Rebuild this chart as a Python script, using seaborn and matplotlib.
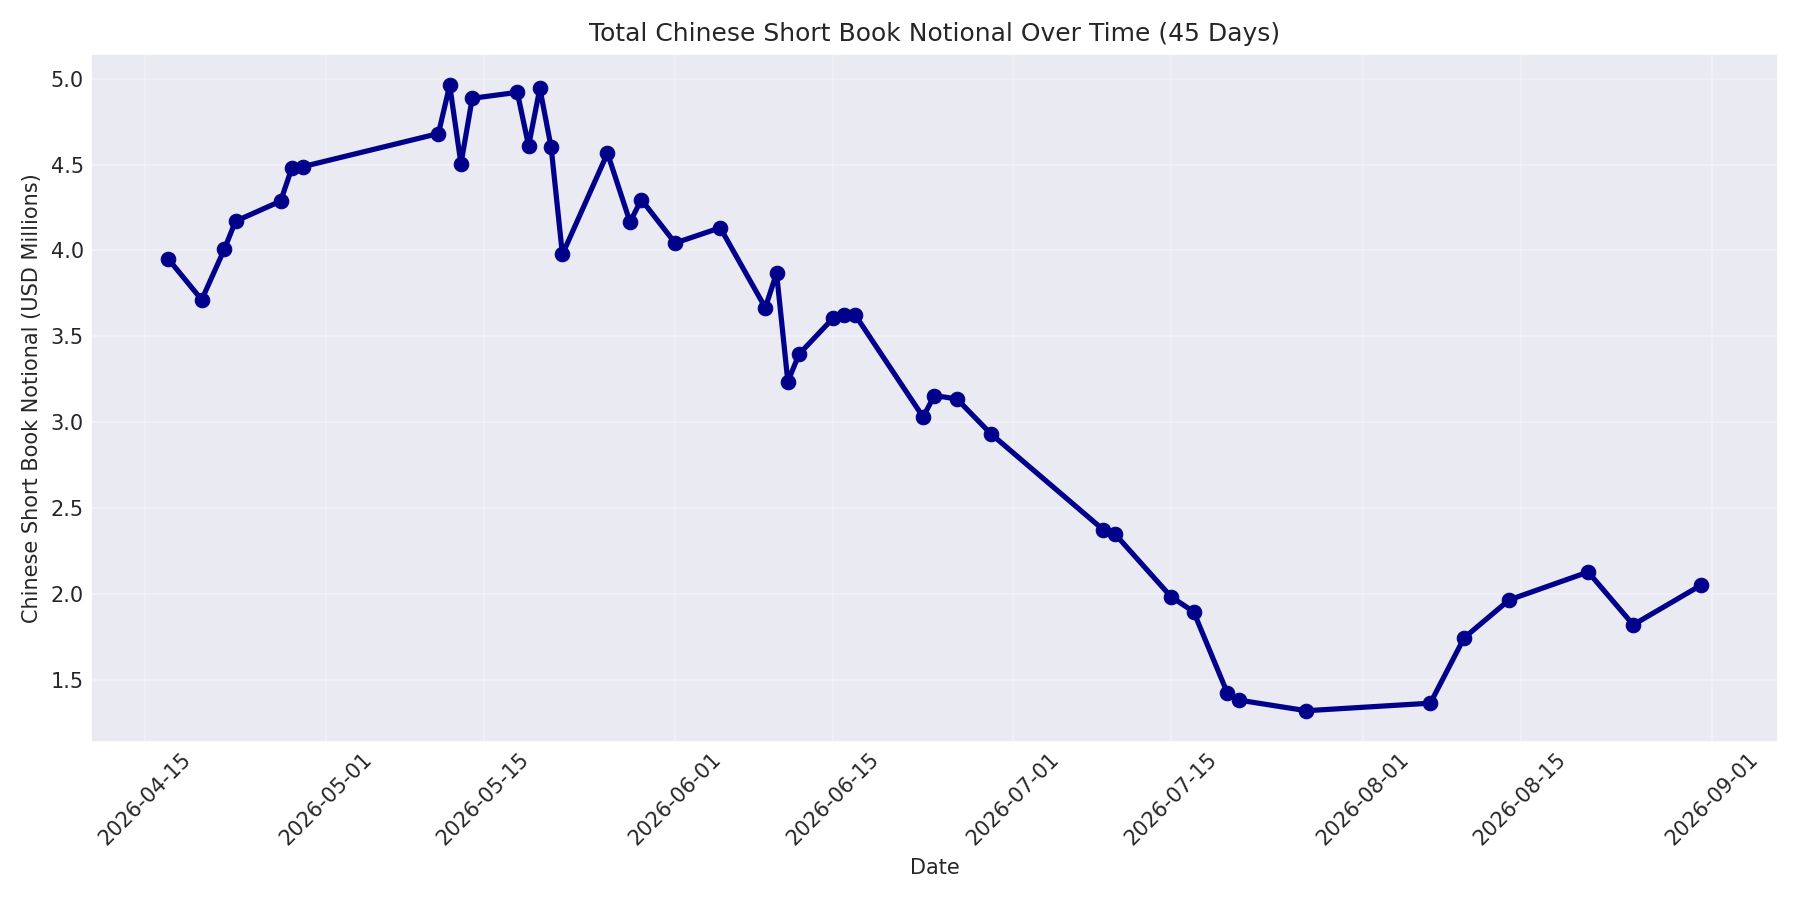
import numpy as np
import pandas as pd
import matplotlib
matplotlib.use("Agg")
import matplotlib.pyplot as plt
import seaborn as sns

# dates / values
dates = [
    "2026-04-17", "2026-04-20", "2026-04-22", "2026-04-23", "2026-04-27",
    "2026-04-28", "2026-04-29", "2026-05-11", "2026-05-12", "2026-05-13",
    "2026-05-14", "2026-05-18", "2026-05-19", "2026-05-20", "2026-05-21",
    "2026-05-22", "2026-05-26", "2026-05-28", "2026-05-29", "2026-06-01",
    "2026-06-05", "2026-06-09", "2026-06-10", "2026-06-11", "2026-06-12",
    "2026-06-15", "2026-06-16", "2026-06-17", "2026-06-23", "2026-06-24",
    "2026-06-26", "2026-06-29", "2026-07-09", "2026-07-10", "2026-07-15",
    "2026-07-17", "2026-07-20", "2026-07-21", "2026-07-27", "2026-08-07",
    "2026-08-10", "2026-08-14", "2026-08-21", "2026-08-25", "2026-08-31",
]
notional_musd = [
    3.953, 3.713, 4.006, 4.170, 4.287,
    4.480, 4.488, 4.680, 4.961, 4.504,
    4.885, 4.920, 4.609, 4.943, 4.600,
    3.977, 4.566, 4.165, 4.296, 4.043,
    4.132, 3.667, 3.868, 3.237, 3.397,
    3.605, 3.625, 3.622, 3.031, 3.156,
    3.136, 2.934, 2.374, 2.352, 1.985,
    1.898, 1.424, 1.384, 1.322, 1.366,
    1.746, 1.967, 2.129, 1.822, 2.052,
]

df = pd.DataFrame({"date": pd.to_datetime(dates), "notional": notional_musd})

sns.set_style("darkgrid")
# no tick marks, so labels sit close to the axes
plt.rcParams["xtick.major.size"] = 0
plt.rcParams["ytick.major.size"] = 0

fig, ax = plt.subplots(figsize=(12, 6), dpi=150)
sns.lineplot(data=df, x="date", y="notional", ax=ax, color="darkblue",
             linewidth=2.5, marker="o", markersize=7,
             markeredgecolor="darkblue", markeredgewidth=0.5)

ax.set_title("Total Chinese Short Book Notional Over Time (45 Days)", fontsize=12)
ax.set_xlabel("Date")
ax.set_ylabel("Chinese Short Book Notional (USD Millions)")
ax.grid(True, alpha=0.3)
plt.xticks(rotation=45)
plt.tight_layout()
plt.savefig("out.png")
